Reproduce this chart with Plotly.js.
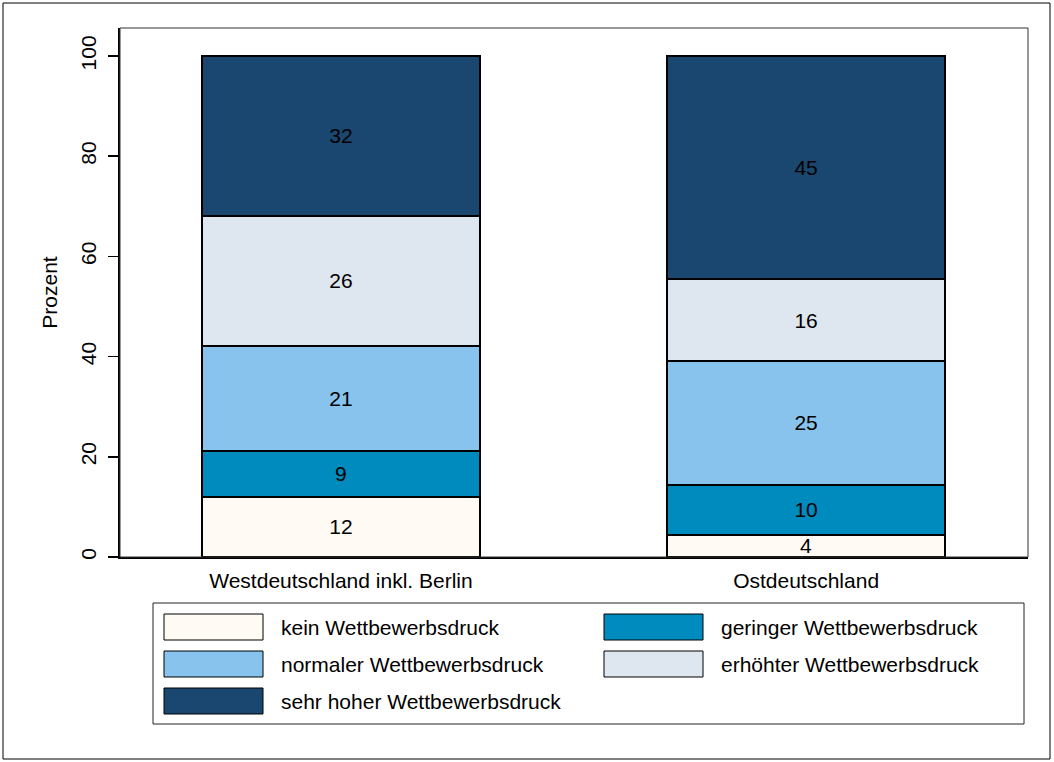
<!DOCTYPE html>
<html>
<head>
<meta charset="utf-8">
<script src="https://cdn.plot.ly/plotly-3.0.1.min.js"></script>
<style>
  html, body { margin: 0; padding: 0; background: #ffffff; }
  #chart { width: 1054px; height: 762px; }
</style>
</head>
<body>
<div id="chart"></div>
<script>
// ---- Data ----
const regions = ["Westdeutschland inkl. Berlin", "Ostdeutschland"];
const seriesNames = [
  "kein Wettbewerbsdruck",
  "geringer Wettbewerbsdruck",
  "normaler Wettbewerbsdruck",
  "erhöhter Wettbewerbsdruck",
  "sehr hoher Wettbewerbsdruck"
];
const keinValues      = [12.0, 4.4];
const geringerValues  = [9.2, 10.0];
const normalerValues  = [20.9, 24.7];
const erhoehterValues = [26.0, 16.4];
const sehrHoherValues = [31.9, 44.5];
const seriesColors = ["#fffaf4", "#008bbf", "#87c3ec", "#dee6ef", "#1a476f"];
const yTickValues = [0, 20, 40, 60, 80, 100];
const yAxisTitle = "Prozent";

const seriesValues = [keinValues, geringerValues, normalerValues, erhoehterValues, sehrHoherValues];

// ---- Layout geometry (pixels) ----
const W = 1054, H = 762;
const M = { l: 120, r: 26, t: 28, b: 205 };
const PW = W - M.l - M.r, PH = H - M.t - M.b;
const px = x => (x - M.l) / PW;           // pixel x -> paper x
const py = y => (H - M.b - y) / PH;       // pixel y -> paper y

const FONT = "Liberation Sans, Arial, Helvetica, sans-serif";

const traces = seriesNames.map((name, i) => ({
  type: "bar",
  name: name,
  x: [0, 1],
  y: seriesValues[i],
  width: 0.598,
  marker: { color: seriesColors[i], line: { color: "#000000", width: 1.5 } },
  texttemplate: "%{y:.0f}",
  textposition: "inside",
  insidetextanchor: "middle",
  textangle: 0,
  constraintext: "none",
  textfont: { family: FONT, size: 21, color: "#000000" },
  hoverinfo: "skip",
  showlegend: false
}));

// ---- Custom legend (shapes + annotations) ----
const shapes = [];
const annotations = [];
// outer border of the whole graph
shapes.push({ type: "rect", xref: "paper", yref: "paper",
  x0: px(3), x1: px(1050), y0: py(3), y1: py(759),
  line: { color: "#000000", width: 1 }, fillcolor: "rgba(0,0,0,0)", layer: "below" });
// plot region frame
shapes.push({ type: "rect", xref: "paper", yref: "paper",
  x0: 0, x1: 1, y0: 0, y1: 1,
  line: { color: "#333333", width: 1 }, fillcolor: "rgba(0,0,0,0)", layer: "above" });
// legend box
shapes.push({ type: "rect", xref: "paper", yref: "paper",
  x0: px(153), x1: px(1024), y0: py(603), y1: py(724),
  line: { color: "#222222", width: 1 }, fillcolor: "#ffffff" });

const colSwatchX = [164, 604];
const colTextX = [279, 719];
const rowCenterY = [627, 664, 701];
seriesNames.forEach((name, i) => {
  const c = i % 2, r = Math.floor(i / 2);
  shapes.push({ type: "rect", xref: "paper", yref: "paper",
    x0: px(colSwatchX[c]), x1: px(colSwatchX[c] + 99),
    y0: py(rowCenterY[r] - 13), y1: py(rowCenterY[r] + 13),
    line: { color: "#000000", width: 1 }, fillcolor: seriesColors[i] });
  annotations.push({ xref: "paper", yref: "paper",
    x: px(colTextX[c]), y: py(rowCenterY[r]),
    xanchor: "left", yanchor: "middle", showarrow: false,
    text: name, font: { family: FONT, size: 21, color: "#000000" } });
});

const layout = {
  width: W, height: H,
  margin: M,
  paper_bgcolor: "#ffffff",
  plot_bgcolor: "#ffffff",
  barmode: "stack",
  bargap: 0,
  showlegend: false,
  font: { family: FONT, size: 21, color: "#000000" },
  xaxis: {
    range: [-0.475, 1.477],
    tickmode: "array",
    tickvals: [0, 1],
    ticktext: regions,
    ticks: "",
    showgrid: false,
    zeroline: false,
    showline: true,
    linecolor: "#000000",
    linewidth: 2,
    tickfont: { family: FONT, size: 21, color: "#000000" },
    ticklabelstandoff: 4,
    fixedrange: true
  },
  yaxis: {
    range: [0, 105.6],
    tickmode: "array",
    tickvals: yTickValues,
    ticktext: yTickValues.map(String),
    ticks: "outside",
    ticklen: 10,
    tickwidth: 1.5,
    tickcolor: "#000000",
    tickangle: -90,
    tickfont: { family: FONT, size: 21, color: "#000000" },
    ticklabelstandoff: 4,
    showgrid: false,
    zeroline: false,
    showline: true,
    linecolor: "#000000",
    linewidth: 2,
    title: { text: yAxisTitle, font: { family: FONT, size: 21, color: "#000000" }, standoff: 13 },
    fixedrange: true
  },
  shapes: shapes,
  annotations: annotations
};

Plotly.newPlot("chart", traces, layout, { displayModeBar: false, staticPlot: true });
</script>
</body>
</html>
